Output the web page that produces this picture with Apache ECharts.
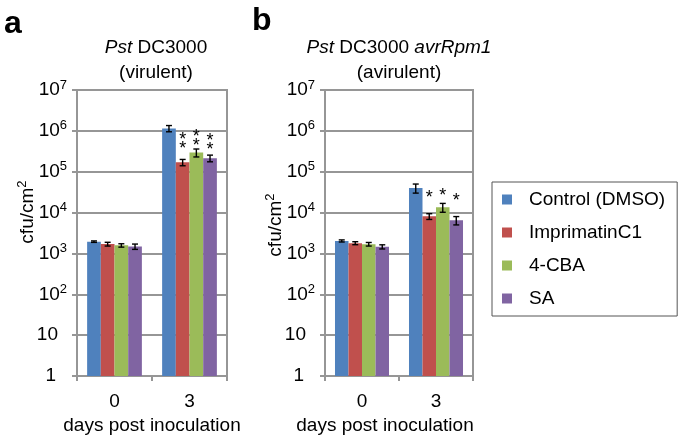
<!DOCTYPE html>
<html><head><meta charset="utf-8">
<script src="https://cdn.jsdelivr.net/npm/echarts@6/dist/echarts.min.js"></script>
<style>html,body{margin:0;padding:0;background:#fff}#c{width:685px;height:440px}</style>
</head><body><div id="c"></div>
<script>
// ---- data ----
const categories = ['0', '3'];
const treatments = ['Control (DMSO)', 'ImprimatinC1', '4-CBA', 'SA'];
const yTickValues = [1, 10, 100, 1000, 10000, 100000, 1000000, 10000000];

// panel a: Pst DC3000 (virulent) — mean and SD, cfu/cm2
const aControl = [1950, 1150000];
const aControlSd = [80, 200000];
const aImprimatin = [1700, 170000];
const aImprimatinSd = [180, 30000];
const aCBA = [1580, 295000];
const aCBASd = [150, 65000];
const aSA = [1480, 215000];
const aSASd = [220, 40000];
// significance marks (day 3) and the height where the lowest mark sits
const aSig = ['', '**', '**', '**'];
const aSigPos = [null, 440000, 520000, 420000];

// panel b: Pst DC3000 avrRpm1 (avirulent)
const bControl = [2030, 40000];
const bControlSd = [120, 10000];
const bImprimatin = [1790, 8100];
const bImprimatinSd = [150, 1300];
const bCBA = [1690, 13500];
const bCBASd = [170, 3300];
const bSA = [1460, 6500];
const bSASd = [170, 1500];
const bSig = ['', '*', '*', '*'];
const bSigPos = [null, 28000, 31700, 24600];

// ---- style ----
const FONT = 'Liberation Sans, Arial, sans-serif';
const colors = ['#4f81bd', '#c0504d', '#9bbb59', '#8064a2'];
const GRAY = '#969696';
const CAT_GAP = 0.27;

const chart = echarts.init(document.getElementById('c'));

const panels = [
  {means: [aControl, aImprimatin, aCBA, aSA], sds: [aControlSd, aImprimatinSd, aCBASd, aSASd], sig: aSig, sigPos: aSigPos},
  {means: [bControl, bImprimatin, bCBA, bSA], sds: [bControlSd, bImprimatinSd, bCBASd, bSASd], sig: bSig, sigPos: bSigPos}
];

function yLabel(v) {
  const n = Math.round(Math.log10(v));
  if (n === 0) return '{n|1}{p1| }';
  if (n === 1) return '{n|10}{p10| }';
  return '{b|10}{s|' + n + '}';
}

function makeYAxis(idx, nameGap, namePad) {
  return {
    type: 'log', logBase: 10, gridIndex: idx, min: 1, max: 1e7, splitNumber: 7,
    axisLine: {show: true, lineStyle: {color: GRAY, width: 2}},
    axisTick: {show: true, inside: false, length: 5, lineStyle: {color: GRAY, width: 2}},
    splitLine: {show: true, lineStyle: {color: GRAY, width: 2}},
    minorTick: {show: false}, minorSplitLine: {show: false},
    axisLabel: {
      margin: 10, color: '#000', formatter: yLabel,
      rich: {
        b: {fontSize: 19, fontFamily: FONT, color: '#000', lineHeight: 19, padding: [10, 0, 0, 0], verticalAlign: 'bottom'},
        s: {fontSize: 13, fontFamily: FONT, color: '#000', lineHeight: 13, padding: [0, 0, 8, 0], verticalAlign: 'bottom'},
        n: {fontSize: 19, fontFamily: FONT, color: '#000', lineHeight: 19},
        p1: {width: 11, fontSize: 10},
        p10: {width: 9, fontSize: 10}
      }
    },
    name: '{t|cfu/cm}{s|2}', nameLocation: 'middle', nameGap: nameGap, nameMoveOverlap: false,
    nameTextStyle: {
      padding: namePad,
      rich: {
        t: {fontSize: 19, fontFamily: FONT, color: '#000', lineHeight: 19, padding: [8, 0, 0, 0], verticalAlign: 'bottom'},
        s: {fontSize: 13, fontFamily: FONT, color: '#000', lineHeight: 13, padding: [0, 0, 8, 0], verticalAlign: 'bottom'}
      }
    }
  };
}

function makeXAxis(idx, namePad) {
  return {
    type: 'category', gridIndex: idx, data: categories,
    axisLine: {show: true, lineStyle: {color: GRAY, width: 2}},
    axisTick: {show: true, alignWithLabel: false, length: 5, lineStyle: {color: GRAY, width: 2}},
    axisLabel: {fontSize: 19, fontFamily: FONT, color: '#000', margin: 16},
    name: 'days post inoculation', nameLocation: 'middle', nameGap: 38,
    nameTextStyle: {fontSize: 19, fontFamily: FONT, color: '#000', padding: namePad}
  };
}

const series = [];
panels.forEach((p, pi) => {
  p.means.forEach((m, ti) => {
    series.push({
      type: 'bar', name: treatments[ti], xAxisIndex: pi, yAxisIndex: pi,
      data: m, barGap: '0%', barCategoryGap: (CAT_GAP * 100) + '%',
      itemStyle: {color: colors[ti]}, silent: true, animation: false
    });
  });
  p.means.forEach((m, ti) => {
    const sd = p.sds[ti];
    series.push({
      type: 'custom', name: 'err' + pi + ti, xAxisIndex: pi, yAxisIndex: pi, z: 10, silent: true, animation: false,
      data: m.map((v, i) => [i, v - sd[i], v + sd[i]]),
      encode: {x: 0, y: [1, 2]},
      renderItem: function (params, api) {
        const band = api.size([1, 1])[0];
        const bw = band * (1 - CAT_GAP) / 4;
        const top = api.coord([api.value(0), api.value(2)]);
        const bot = api.coord([api.value(0), api.value(1)]);
        const cx = top[0] + (ti - 1.5) * bw;
        const cap = 3;
        const st = {stroke: '#000', lineWidth: 1.4};
        return {type: 'group', children: [
          {type: 'line', shape: {x1: cx, y1: top[1], x2: cx, y2: bot[1]}, style: st},
          {type: 'line', shape: {x1: cx - cap, y1: top[1], x2: cx + cap, y2: top[1]}, style: st},
          {type: 'line', shape: {x1: cx - cap, y1: bot[1], x2: cx + cap, y2: bot[1]}, style: st}
        ]};
      }
    });
  });
  // significance stars
  const sigData = [];
  p.sig.forEach((s, ti) => { if (s) sigData.push([1, p.sigPos[ti], ti]); });
  series.push({
    type: 'custom', name: 'sig' + pi, xAxisIndex: pi, yAxisIndex: pi, z: 11, silent: true, animation: false,
    data: sigData, encode: {x: 0, y: 1},
    renderItem: function (params, api) {
      const ti = api.value(2);
      const band = api.size([1, 1])[0];
      const bw = band * (1 - CAT_GAP) / 4;
      const pt = api.coord([api.value(0), api.value(1)]);
      const cx = pt[0] + (ti - 1.5) * bw;
      const n = p.sig[ti].length;
      const kids = [];
      for (let k = 0; k < n; k++) {
        kids.push({type: 'text', style: {text: '*', x: cx, y: pt[1] + 4 - k * 9, fill: '#000',
          fontSize: 18, fontFamily: FONT, align: 'center', verticalAlign: 'middle'}});
      }
      return {type: 'group', children: kids};
    }
  });
});

const option = {
  animation: false,
  backgroundColor: '#fff',
  title: [
    {text: 'a', left: 4, top: 8, padding: 0, textStyle: {fontSize: 32, fontWeight: 'bold', fontFamily: FONT, color: '#000'}},
    {text: 'b', left: 252, top: 5, padding: 0, textStyle: {fontSize: 32, fontWeight: 'bold', fontFamily: FONT, color: '#000'}},
    {text: '{i|Pst} DC3000\n(virulent)', left: 156, top: 35, padding: 0, textAlign: 'center',
      textStyle: {fontSize: 19, fontWeight: 'normal', lineHeight: 25, fontFamily: FONT, color: '#000',
        rich: {i: {fontStyle: 'italic', fontSize: 19, fontFamily: FONT, color: '#000', lineHeight: 25}}}},
    {text: '{i|Pst} DC3000 {i|avrRpm1}\n(avirulent)', left: 399, top: 35, padding: 0, textAlign: 'center',
      textStyle: {fontSize: 19, fontWeight: 'normal', lineHeight: 25, fontFamily: FONT, color: '#000',
        rich: {i: {fontStyle: 'italic', fontSize: 19, fontFamily: FONT, color: '#000', lineHeight: 25}}}}
  ],
  legend: {
    data: treatments, orient: 'vertical', left: 492, top: 182, padding: [8, 12, 8, 10],
    itemGap: 14, itemWidth: 10, itemHeight: 10, icon: 'rect', selectedMode: false,
    borderColor: '#555', borderWidth: 1,
    textStyle: {fontSize: 19, fontFamily: FONT, color: '#000', padding: [0, 0, 0, 12]}
  },
  grid: [
    {left: 77, top: 90, width: 150, height: 297, show: true, borderColor: GRAY, borderWidth: 2, backgroundColor: 'transparent'},
    {left: 325, top: 90, width: 148, height: 297, show: true, borderColor: GRAY, borderWidth: 2, backgroundColor: 'transparent'}
  ],
  xAxis: [makeXAxis(0, [0, 0, 0, 0]), makeXAxis(1, [0, 28, 0, 0])],
  yAxis: [makeYAxis(0, 40, [0, 0, 0, 42]), makeYAxis(1, 40, [0, 0, 0, 16])],
  series: series
};
chart.setOption(option);
</script>
</body></html>
